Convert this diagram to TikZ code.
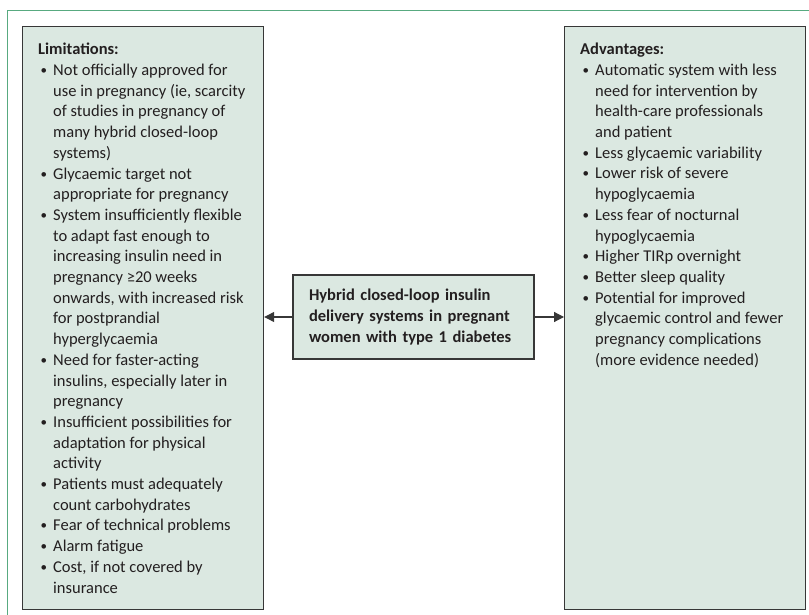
\documentclass[tikz,border=0pt]{standalone}
\usepackage{fontspec}
\setmainfont{Carlito}
\usetikzlibrary{arrows.meta}
\definecolor{panelfill}{RGB}{219,232,225}
\definecolor{panelline}{RGB}{55,55,55}
\definecolor{framegreen}{RGB}{88,170,128}
\definecolor{ink}{RGB}{35,31,32}
\newcommand\itm{\makebox[15pt][l]{\hspace{2.5pt}\raisebox{1pt}{\fontsize{13}{13}\selectfont\textbullet}}}
\newcommand\cnt{\hspace*{15pt}}
\begin{document}
\begin{tikzpicture}[x=1pt, y=-1pt,
  panel/.style={draw=panelline, fill=panelfill, line width=1.2pt, rectangle, inner sep=0pt},
  list/.style={anchor=north west, align=left, inner sep=0pt, text=ink, font=\fontsize{16.5}{20.7}\selectfont},
  conn/.style={draw=panelline, line width=1.2pt, -{Triangle[length=10pt, width=10pt]}}]
\useasboundingbox (0,0) rectangle (809,615);
\draw[framegreen, line width=1pt] (809,11) -- (7,11) -- (7,615);
\node [panel, minimum width=241pt, minimum height=583pt, anchor=north west] (limbox) at (22,26) {};
\node [panel, minimum width=241pt, minimum height=583pt, anchor=north west] (advbox) at (564,26) {};
\node [panel, text width=209pt, inner xsep=16pt, minimum height=84pt, align=left, text=ink,
       font=\bfseries\fontsize{16.5}{21}\selectfont] (hub) at (413.5,317)
  {Hybrid closed-loop insulin\\delivery systems in pregnant\\women with type 1 diabetes};
\node [list] (limtext) at (38,43) {%
  \textbf{Limitations:}\\
  \itm Not officially approved for\\
  \cnt use in pregnancy (ie, scarcity\\
  \cnt of studies in pregnancy of\\
  \cnt many hybrid closed-loop\\
  \cnt systems)\\
  \itm Glycaemic target not\\
  \cnt appropriate for pregnancy\\
  \itm System insufficiently flexible\\
  \cnt to adapt fast enough to\\
  \cnt increasing insulin need in\\
  \cnt pregnancy ≥20 weeks\\
  \cnt onwards, with increased risk\\
  \cnt for postprandial\\
  \cnt hyperglycaemia\\
  \itm Need for faster-acting\\
  \cnt insulins, especially later in\\
  \cnt pregnancy\\
  \itm Insufficient possibilities for\\
  \cnt adaptation for physical\\
  \cnt activity\\
  \itm Patients must adequately\\
  \cnt count carbohydrates\\
  \itm Fear of technical problems\\
  \itm Alarm fatigue\\
  \itm Cost, if not covered by\\
  \cnt insurance};
\node [list] (advtext) at (580,43) {%
  \textbf{Advantages:}\\
  \itm Automatic system with less\\
  \cnt need for intervention by\\
  \cnt health-care professionals\\
  \cnt and patient\\
  \itm Less glycaemic variability\\
  \itm Lower risk of severe\\
  \cnt hypoglycaemia\\
  \itm Less fear of nocturnal\\
  \cnt hypoglycaemia\\
  \itm Higher TIRp overnight\\
  \itm Better sleep quality\\
  \itm Potential for improved\\
  \cnt glycaemic control and fewer\\
  \cnt pregnancy complications\\
  \cnt (more evidence needed)};
\draw [conn] (hub.west) -- (hub.west -| limbox.east);
\draw [conn] (hub.east) -- (hub.east -| advbox.west);
\end{tikzpicture}
\end{document}
